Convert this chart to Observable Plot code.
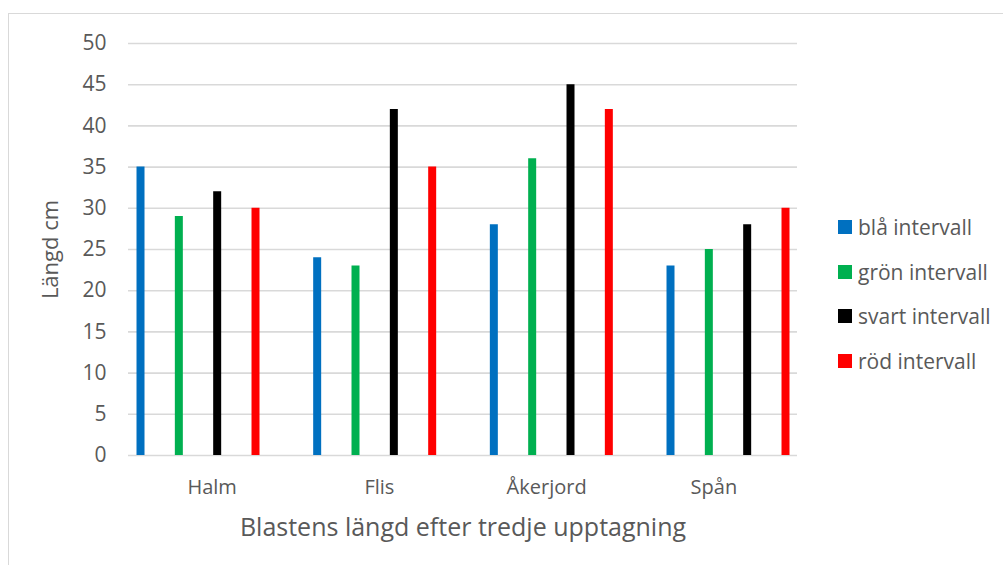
<!DOCTYPE html>
<html>
<head>
<meta charset="utf-8">
<script src="https://cdn.jsdelivr.net/npm/d3@7"></script>
<script src="https://cdn.jsdelivr.net/npm/@observablehq/plot@0.6"></script>
<style>
  html, body { margin: 0; padding: 0; background: #fff; overflow: hidden; }
  #wrap { position: relative; width: 1003px; height: 565px; font-family: "Open Sans", sans-serif; }
  #frame { position: absolute; left: 8px; top: 13px; width: 1000px; height: 600px;
           border: 1px solid #d9d9d9; box-sizing: border-box; }
  #chart { position: absolute; left: 0; top: 0; }
  #legend { position: absolute; left: 838px; top: 204.6px; color: #595959; font-size: 21px; }
  .item { display: flex; align-items: center; height: 44.7px; white-space: nowrap; }
  .sw { width: 14px; height: 14px; margin-right: 6px; }
</style>
</head>
<body>
<div id="wrap">
  <div id="frame"></div>
  <div id="chart"></div>
  <div id="legend"></div>
</div>
<script>
// Categories (bedding material) and the four measurement intervals
const categories = ["Halm", "Flis", "Åkerjord", "Spån"];
const series = ["blå intervall", "grön intervall", "svart intervall", "röd intervall"];
const colors = ["#0070c0", "#00b050", "#000000", "#ff0000"];

// Shoot length (cm) per interval, in category order
const blaValues = [35, 24, 28, 23];
const gronValues = [29, 23, 36, 25];
const svartValues = [32, 42, 45, 28];
const rodValues = [30, 35, 42, 30];

const yTicks = [0, 5, 10, 15, 20, 25, 30, 35, 40, 45, 50];

const seriesValues = [blaValues, gronValues, svartValues, rodValues];

// Column layout in category units: each category spans one unit on x
const firstBar = 0.0718, barStep = 0.2292, groupStep = 1.0563;

const rows = categories.flatMap((category, i) =>
  series.map((s, j) => ({
    category,
    series: s,
    value: seriesValues[j][i],
    pos: firstBar + i * groupStep + j * barStep
  }))
);

const textColor = "#595959";

const chart = Plot.plot({
  width: 1003,
  height: 565,
  marginLeft: 128,
  marginRight: 206,
  marginTop: 43,
  marginBottom: 110,
  style: { fontFamily: "Open Sans, sans-serif", color: textColor, background: "transparent" },
  x: { domain: [0, categories.length], label: null },
  y: { domain: [0, 50], label: null },
  color: { domain: series, range: colors },
  marks: [
    Plot.gridY(yTicks, { stroke: "#d9d9d9", strokeOpacity: 1, strokeWidth: 1.6 }),
    Plot.ruleX(rows, { x: "pos", y1: 0, y2: "value", stroke: "series", strokeWidth: 8 }),
    Plot.axisY({ ticks: yTicks, tickSize: 0, tickPadding: 22, fontSize: 21, label: null }),
    Plot.axisX({
      ticks: categories.map((_, i) => i + 0.5),
      tickFormat: (v) => categories[Math.round(v - 0.5)],
      tickSize: 0, tickPadding: 24, fontSize: 20, label: null
    }),
    Plot.text(["Längd cm"], {
      frameAnchor: "left", dx: -78, rotate: -90, fontSize: 22, fill: textColor,
      textAnchor: "middle", lineAnchor: "middle"
    }),
    Plot.text(["Blastens längd efter tredje upptagning"], {
      frameAnchor: "bottom", dy: 72, fontSize: 25, fill: textColor,
      textAnchor: "middle", lineAnchor: "middle"
    })
  ]
});
document.getElementById("chart").appendChild(chart);

// Legend beside the plot area
const legend = d3.select("#legend");
series.forEach((s, j) => {
  const item = legend.append("div").attr("class", "item");
  item.append("div").attr("class", "sw").style("background", colors[j]);
  item.append("span").text(s);
});
</script>
</body>
</html>
